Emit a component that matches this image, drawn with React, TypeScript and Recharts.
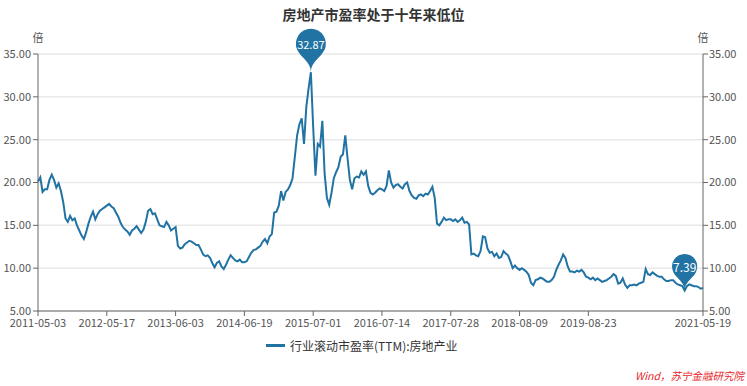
import React from 'react';
import { LineChart, Line, XAxis, YAxis, CartesianGrid, Legend } from 'recharts';

const FONT = '"Microsoft YaHei", "Noto Sans CJK SC", sans-serif';
const LINE_COLOR = '#2173a4';

const title = '房地产市盈率处于十年来低位';
const unit = '倍';
const seriesName = '行业滚动市盈率(TTM):房地产业';
const source = 'Wind，苏宁金融研究院';

// x axis labels, one per segment start, plus the last trading day
const tickDates = [
    '2011-05-03', '2012-05-17', '2013-06-03', '2014-06-19', '2015-07-01',
    '2016-07-14', '2017-07-28', '2018-08-09', '2019-08-23', '2021-05-19',
];
const yTicks = [5, 10, 15, 20, 25, 30, 35];

const pe2011 = [20.1, 20.6, 18.9, 19.2, 19.2, 20.3, 20.9, 20.3, 19.4, 19.9, 19.0, 17.7, 15.8, 15.4, 16.1, 15.6, 15.8, 15.0, 14.4, 13.8, 13.4, 14.2, 15.2, 16.0, 16.6, 15.7, 16.3, 16.7, 16.9, 17.1];
const pe2012 = [17.3, 17.5, 17.2, 17.0, 16.5, 16.0, 15.3, 14.8, 14.5, 14.3, 13.9, 14.4, 14.6, 14.9, 14.5, 14.1, 14.5, 15.4, 16.7, 16.9, 16.3, 16.4, 15.7, 15.0, 14.9, 14.8, 15.4, 15.0, 14.4, 14.6];
const pe2013 = [14.8, 12.6, 12.3, 12.4, 12.8, 13.0, 13.2, 13.1, 12.9, 12.7, 12.7, 12.2, 11.6, 11.4, 11.5, 11.2, 10.6, 10.1, 10.6, 10.8, 10.2, 9.9, 10.4, 11.0, 11.5, 11.2, 10.9, 10.8, 11.0, 10.7];
const pe2014 = [10.7, 10.8, 11.3, 11.8, 12.1, 12.2, 12.4, 12.6, 13.1, 13.4, 12.9, 13.7, 14.0, 16.5, 16.6, 17.3, 19.0, 17.9, 18.9, 19.2, 19.7, 20.5, 23.0, 25.5, 26.8, 27.5, 24.5, 28.8, 31.0, 32.87];
const pe2015 = [26.5, 20.8, 24.5, 24.2, 27.2, 21.0, 18.2, 17.4, 18.8, 20.5, 21.2, 21.8, 23.0, 23.3, 25.5, 22.8, 20.3, 19.2, 20.5, 20.7, 20.6, 21.3, 20.9, 21.3, 19.6, 18.8, 18.6, 18.8, 19.1, 19.3];
const pe2016 = [19.2, 19.0, 19.6, 21.4, 20.0, 19.4, 19.7, 19.8, 19.5, 19.3, 19.8, 20.0, 19.0, 18.5, 18.2, 18.1, 18.5, 18.6, 18.4, 18.7, 18.6, 19.0, 19.5, 18.2, 15.2, 15.0, 15.4, 15.9, 15.6, 15.7];
const pe2017 = [15.7, 15.5, 15.7, 15.4, 15.6, 15.9, 15.3, 15.4, 15.1, 11.6, 11.7, 11.5, 11.4, 12.0, 13.7, 13.6, 12.3, 11.8, 11.9, 11.4, 11.7, 11.2, 11.3, 12.0, 11.7, 11.5, 10.8, 10.0, 10.3, 10.0];
const pe2018 = [9.8, 10.0, 9.8, 9.6, 9.2, 8.3, 8.0, 8.6, 8.7, 8.9, 8.8, 8.6, 8.4, 8.4, 8.6, 9.0, 9.8, 10.4, 10.9, 11.6, 11.2, 10.2, 9.6, 9.6, 9.5, 9.7, 9.6, 9.8, 9.5, 9.0];
const pe2019 = [8.9, 8.7, 8.9, 8.6, 8.8, 8.6, 8.4, 8.5, 8.6, 8.8, 9.0, 9.3, 9.1, 8.2, 8.3, 8.8, 8.1, 7.7, 8.0, 8.0, 8.1, 8.0, 8.2, 8.3, 8.4, 9.9, 9.3, 9.2, 9.5, 9.3, 9.1, 9.0, 9.0, 8.7, 8.5, 8.5, 8.6, 8.6, 8.3, 8.1, 8.0, 7.9, 7.39, 7.9, 8.1, 8.0, 7.9, 7.9, 7.8, 7.6, 7.7];

const segments = [pe2011, pe2012, pe2013, pe2014, pe2015, pe2016, pe2017, pe2018, pe2019];

const data: { i: number; pe: number }[] = [];
const xTicks: number[] = [];
segments.forEach(seg => {
    xTicks.push(data.length);
    seg.forEach(v => data.push({ i: data.length, pe: v }));
});
xTicks.push(data.length - 1);
const labelAt: Record<number, string> = {};
xTicks.forEach((t, k) => { labelAt[t] = tickDates[k]; });

const values = data.map(d => d.pe);
const maxIdx = values.indexOf(Math.max(...values));
const minIdx = values.indexOf(Math.min(...values));

// echarts-style "pin" balloon, tip sitting on the point
const Pin = ({ x, y, size, text, fontSize }: { x: number; y: number; size: number; text: string; fontSize: number }) => {
    const r = size * 0.3;
    const h = size;
    const dy = (r * r) / (h - r);
    const cy = y - h + r + dy;
    const a = Math.asin(dy / r);
    const dx = Math.cos(a) * r;
    const tx = Math.sin(a);
    const ty = Math.cos(a);
    const cp = r * 0.6;
    const cp2 = r * 0.7;
    const d = `M${x - dx},${cy + dy} A${r},${r} 0 1 1 ${x + dx},${cy + dy} `
        + `C${x + dx - tx * cp},${cy + dy + ty * cp} ${x},${y - cp2} ${x},${y} `
        + `C${x},${y - cp2} ${x - dx + tx * cp},${cy + dy + ty * cp} ${x - dx},${cy + dy} Z`;
    return (
        <g>
            <path d={d} fill={LINE_COLOR} />
            <text x={x} y={cy} textAnchor="middle" dominantBaseline="central" fill="#fff" fontSize={fontSize}>
                {text}
            </text>
        </g>
    );
};

const renderDot = (props: any) => {
    const { cx, cy, index, value } = props;
    if (index === maxIdx) return <Pin key="max" x={cx} y={cy} size={50} text={String(value)} fontSize={11} />;
    if (index === minIdx) return <Pin key="min" x={cx} y={cy} size={42} text={String(value)} fontSize={12} />;
    return <g key={`d-${index}`} />;
};

const renderLegend = () => (
    <div style={{ display: 'flex', alignItems: 'center', paddingLeft: 266, height: 18 }}>
        <span style={{ display: 'inline-block', width: 19, height: 3, background: LINE_COLOR, marginRight: 5 }} />
        <span style={{ fontSize: 12, color: '#333' }}>{seriesName}</span>
    </div>
);

const axisTick = { fill: '#555', fontSize: 11 };

export default function App() {
    return (
        <div style={{ position: 'absolute', left: 0, top: 0, width: 747, height: 386, background: '#fff', fontFamily: FONT }}>
            <div style={{ position: 'absolute', left: 0, top: 4, width: 747, textAlign: 'center', fontSize: 14, fontWeight: 'bold', color: '#333', lineHeight: '20px' }}>
                {title}
            </div>
            <div style={{ position: 'absolute', left: 31, top: 29, width: 14, textAlign: 'center', fontSize: 11, color: '#555', lineHeight: '16px' }}>{unit}</div>
            <div style={{ position: 'absolute', left: 696, top: 29, width: 14, textAlign: 'center', fontSize: 11, color: '#555', lineHeight: '16px' }}>{unit}</div>
            <div style={{ position: 'absolute', right: 3, top: 368, fontSize: 10.5, fontStyle: 'italic', color: '#e8262a', lineHeight: '16px' }}>
                {source}
            </div>
            <LineChart width={747} height={386} data={data} margin={{ top: 54, right: 0, bottom: 0, left: 0 }}>
                <CartesianGrid yAxisId="left" vertical={false} stroke="#e9e9e9" strokeWidth={1.5} />
                <XAxis
                    dataKey="i"
                    type="number"
                    domain={[0, data.length - 1]}
                    ticks={xTicks}
                    interval={0}
                    tickFormatter={(v: number) => labelAt[v] ?? ''}
                    height={75}
                    tick={axisTick}
                    tickSize={5}
                    tickMargin={3}
                    stroke="#666"
                />
                <YAxis
                    yAxisId="left"
                    domain={[5, 35]}
                    ticks={yTicks}
                    interval={0}
                    tickFormatter={(v: number) => v.toFixed(2)}
                    width={38}
                    tick={axisTick}
                    tickSize={5}
                    tickMargin={2}
                    stroke="#666"
                />
                <YAxis
                    yAxisId="right"
                    orientation="right"
                    domain={[5, 35]}
                    allowDataOverflow
                    ticks={yTicks}
                    interval={0}
                    tickFormatter={(v: number) => v.toFixed(2)}
                    width={44}
                    tick={axisTick}
                    tickSize={5}
                    tickMargin={1}
                    stroke="#666"
                />
                <Legend
                    verticalAlign="bottom"
                    content={renderLegend}
                    wrapperStyle={{ top: 336, bottom: 'auto', left: 0, height: 0, overflow: 'visible' }}
                />
                <Line
                    yAxisId="left"
                    type="linear"
                    dataKey="pe"
                    name={seriesName}
                    stroke={LINE_COLOR}
                    strokeWidth={2}
                    dot={renderDot}
                    activeDot={false}
                    isAnimationActive={false}
                />
            </LineChart>
        </div>
    );
}
